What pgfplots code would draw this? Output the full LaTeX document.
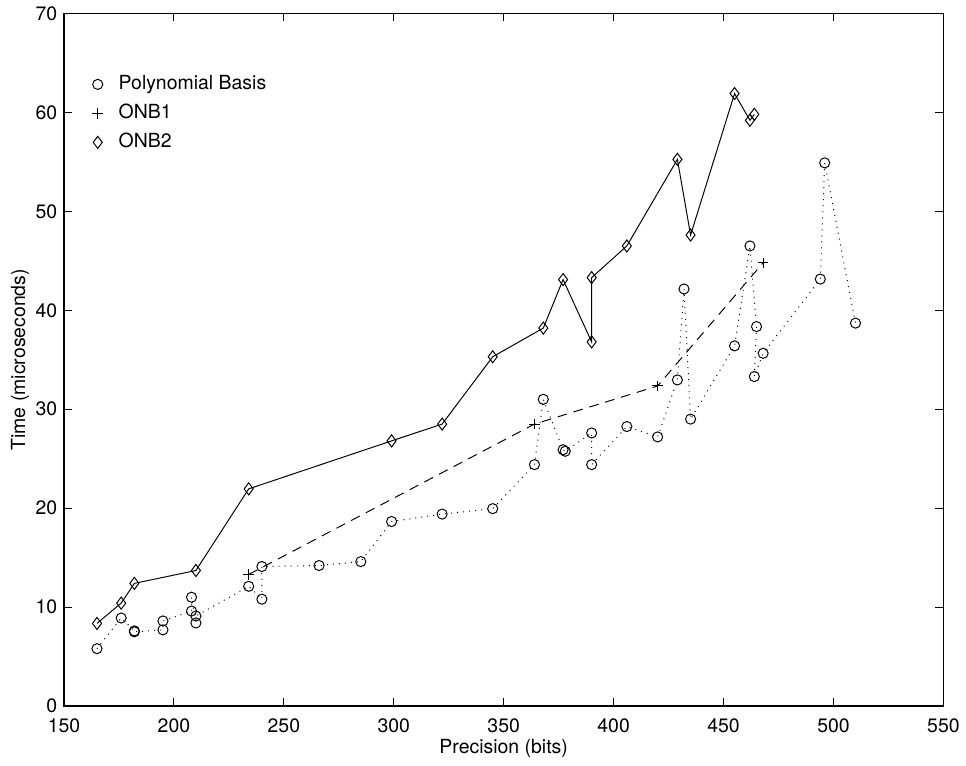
\documentclass[border=0pt]{standalone}
\usepackage{fontspec}
\setmainfont{TeX Gyre Heros}
\usepackage{pgfplots}
\pgfplotsset{compat=1.18}

\begin{document}
\fontsize{10}{12}\selectfont
\begin{tikzpicture}
\begin{axis}[
    scale only axis,
    width=452pt, height=356pt,
    xmin=150, xmax=550,
    ymin=0, ymax=70,
    xtick={150,200,...,550},
    ytick={0,10,...,70},
    tick align=inside,
    major tick length=4.1pt,
    axis line style={line width=0.7pt},
    every tick/.style={black, line width=0.5pt},
    /pgf/number format/assume math mode=true,
    ticklabel style={font=\fontsize{10}{12}\selectfont},
    xticklabel style={yshift=-3pt},
    xlabel={Precision (bits)},
    ylabel={Time (microseconds)},
    xlabel style={at={(axis description cs:0.5,-0.0606)}, anchor=center},
    ylabel style={at={(axis description cs:-0.05,0.5)}, anchor=center},
    legend style={draw=none, fill=none, at={(axis description cs:0.02,0.922)},
        anchor=north west, row sep=1.9pt,
        nodes={inner sep=2pt, text height=7pt, text depth=2pt},
        font=\fontsize{10}{12}\selectfont},
    legend cell align=left,
    legend image code/.code={\path (0cm,0cm) (0.47cm,0cm);
        \draw[#1] plot coordinates {(0.17cm,0cm)};},
]
\coordinate (O) at (rel axis cs:0,0);

% polynomial basis
\addplot[black, line width=0.5pt, dash pattern=on 0.5pt off 2.6pt,
    mark=o, mark size=2.6pt, mark options={solid}] coordinates {
(165,5.8)(176,8.9)(182,7.6)(182,7.5)(195,7.7)(195,8.6)(208,9.6)(208,11.0)
(210,8.4)(210,9.1)(234,12.1)(240,10.8)(240,14.1)(266,14.2)(285,14.6)
(299,18.65)(322,19.4)(345,19.95)(364,24.4)(368,31.0)(377,25.9)(378,25.75)
(390,27.6)(390,24.4)(406,28.25)(420,27.2)(429,32.96)(432,42.15)(435,29.0)
(455,36.4)(462,46.5)(465,38.35)(464,33.3)(468,35.65)(494,43.15)(496,54.9)
(510,38.7)
};
% ONB1
\addplot[black, line width=0.5pt, dash pattern=on 5pt off 3.5pt,
    mark=+, mark size=2.7pt, mark options={solid}] coordinates {
(234,13.3)(364,28.5)(420,32.35)(468,44.8)
};
% ONB2
\addplot[black, line width=0.5pt,
    mark=diamond, mark size=3.1pt, mark options={solid}] coordinates {
(165,8.35)(176,10.4)(182,12.4)(210,13.7)(234,21.95)(299,26.8)(322,28.5)
(345,35.3)(368,38.2)(377,43.1)(390,36.8)(390,43.3)(406,46.5)(429,55.25)
(435,47.6)(455,61.9)(462,59.2)(464,59.8)
};
\legend{Polynomial Basis, ONB1, ONB2}
\end{axis}
\pgfresetboundingbox
\path[use as bounding box] (O) ++(-32.9pt,-30.3pt) rectangle ++(496.5pt,393.2pt);
\end{tikzpicture}
\end{document}
